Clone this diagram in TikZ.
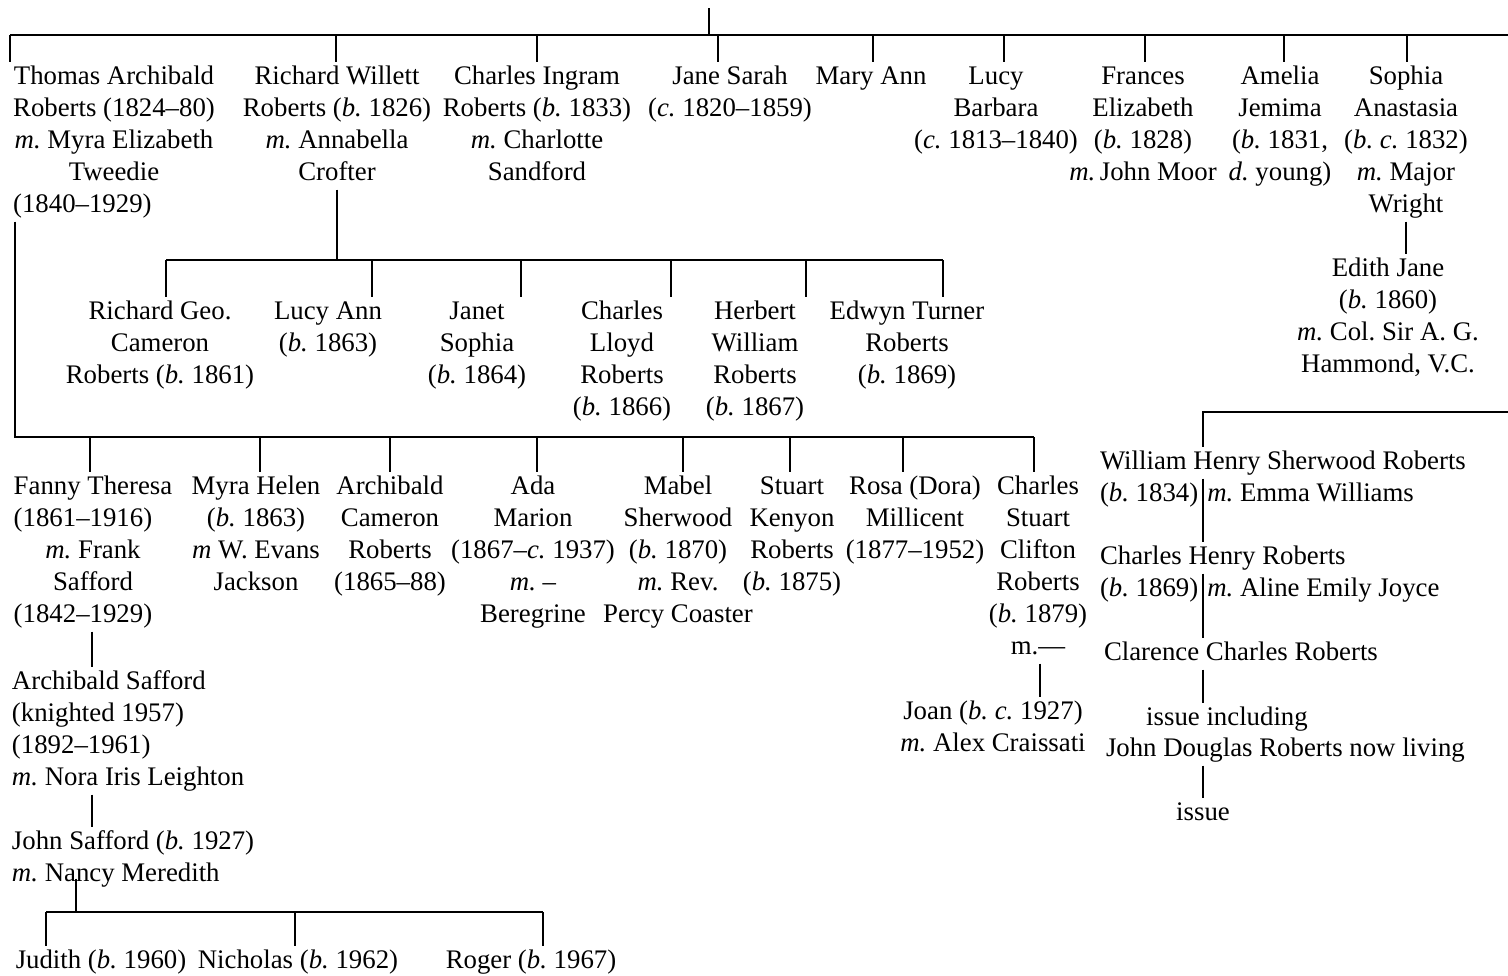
\documentclass[tikz,border=0pt]{standalone}
\usepackage{fontspec}
\setmainfont{Liberation Serif}
\usetikzlibrary{calc}
\frenchspacing
\newcommand\pc[1]{\begin{tabular}{@{}c@{}}#1\end{tabular}}
\newcommand\pl[1]{\begin{tabular}{@{}l@{}}#1\end{tabular}}
\newcommand\lft[1]{\multicolumn{1}{@{}l@{}}{#1}}
\begin{document}
\begin{tikzpicture}[x=1pt,y=-1pt,
  person/.style={inner sep=0pt,outer sep=0pt,anchor=north,font=\fontsize{26.8}{32}\selectfont},
  personl/.style={person,anchor=north west},
  line/.style={line width=1.1pt}]
\useasboundingbox (0,0) rectangle (1508,975);

% ---------- generation 1 ----------
\node[person] (thomas)   at (114,61.6) {\pc{Thomas Archibald\\Roberts (1824--80)\\\textit{m.} Myra Elizabeth\\Tweedie\\\lft{(1840--1929)}}};
\node[person] (richard)  at (337,61.6) {\pc{Richard Willett\\Roberts (\textit{b.} 1826)\\\textit{m.} Annabella\\Crofter}};
\node[person] (charlesI) at (537,61.6) {\pc{Charles Ingram\\Roberts (\textit{b.} 1833)\\\textit{m.} Charlotte\\Sandford}};
\node[person] (jane)     at (730,61.6) {\pc{Jane Sarah\\(\textit{c.} 1820--1859)}};
\node[person] (mary)     at (871,61.6) {\pc{Mary Ann}};
\node[person] (lucy)     at (996,61.6) {\pc{Lucy\\Barbara\\(\textit{c.} 1813--1840)}};
\node[person] (frances)  at (1143,61.6) {\pc{Frances\\Elizabeth\\(\textit{b.} 1828)\\\textit{m.}\,John Moor}};
\node[person] (amelia)   at (1280,61.6) {\pc{Amelia\\Jemima\\(\textit{b.} 1831,\\\textit{d.} young)}};
\node[person] (sophia)   at (1406,61.6) {\pc{Sophia\\Anastasia\\(\textit{b. c.} 1832)\\\textit{m.} Major\\Wright}};
\node[person] (edith)    at (1388,253.6) {\pc{Edith Jane\\(\textit{b.} 1860)\\\textit{m.} Col. Sir A. G.\\Hammond, V.C.}};

% ---------- children of Richard Willett ----------
\node[person] (rgc)      at (160,296.6) {\pc{Richard Geo.\\Cameron\\Roberts (\textit{b.} 1861)}};
\node[person] (lucyann)  at (328,296.6) {\pc{Lucy Ann\\(\textit{b.} 1863)}};
\node[person] (janet)    at (477,296.6) {\pc{Janet\\Sophia\\(\textit{b.} 1864)}};
\node[person] (charlesL) at (622,296.6) {\pc{Charles\\Lloyd\\Roberts\\(\textit{b.} 1866)}};
\node[person] (herbert)  at (755,296.6) {\pc{Herbert\\William\\Roberts\\(\textit{b.} 1867)}};
\node[person] (edwyn)    at (907,296.6) {\pc{Edwyn Turner\\Roberts\\(\textit{b.} 1869)}};

% ---------- children of Thomas Archibald ----------
\node[person] (fanny)    at (93,471.6) {\pc{Fanny Theresa\\\lft{(1861--1916)}\\\textit{m.} Frank\\Safford\\\lft{(1842--1929)}}};
\node[person] (myra)     at (256,471.6) {\pc{Myra Helen\\(\textit{b.} 1863)\\\textit{m} W. Evans\\Jackson}};
\node[person] (archC)    at (390,471.6) {\pc{Archibald\\Cameron\\Roberts\\(1865--88)}};
\node[person] (ada)      at (533,471.6) {\pc{Ada\\Marion\\(1867--\textit{c.} 1937)\\\textit{m.} --\\Beregrine}};
\node[person] (mabel)    at (678,471.6) {\pc{Mabel\\Sherwood\\(\textit{b.} 1870)\\\textit{m.} Rev.\\Percy Coaster}};
\node[person] (stuart)   at (792,471.6) {\pc{Stuart\\Kenyon\\Roberts\\(\textit{b.} 1875)}};
\node[person] (rosa)     at (915,471.6) {\pc{Rosa (Dora)\\Millicent\\(1877--1952)}};
\node[person] (charlesS) at (1038,471.6) {\pc{Charles\\Stuart\\Clifton\\Roberts\\(\textit{b.} 1879)\\m.---}};
\node[person] (joan)     at (993,696.6) {\pc{Joan (\textit{b. c.} 1927)\\\textit{m.} Alex Craissati}};

% ---------- Safford line ----------
\node[personl] (archS)   at (12,666.6) {\pl{Archibald Safford\\(knighted 1957)\\(1892--1961)\\\textit{m.} Nora Iris Leighton}};
\node[personl] (johnS)   at (12,826.6) {\pl{John Safford (\textit{b.} 1927)\\\textit{m.} Nancy Meredith}};
\node[person] (judith)   at (101,945.6) {\pc{Judith (\textit{b.} 1960)}};
\node[person] (nicholas) at (298,945.6) {\pc{Nicholas (\textit{b.} 1962)}};
\node[person] (roger)    at (531,945.6) {\pc{Roger (\textit{b.} 1967)}};

% ---------- William Henry Sherwood line ----------
\node[personl] (william)  at (1100,446.6) {\pl{William Henry Sherwood Roberts\\(\textit{b.} 1834)\hspace{9pt}\textit{m.} Emma Williams}};
\node[personl] (charlesH) at (1100,541.6) {\pl{Charles Henry Roberts\\(\textit{b.} 1869)\hspace{9pt}\textit{m.} Aline Emily Joyce}};
\node[personl] (clarence) at (1104,637.6) {\pl{Clarence Charles Roberts}};
\node[person]  (issueinc) at (1227,702.6) {\pc{issue including}};
\node[personl] (johnD)    at (1106,733.6) {\pl{John Douglas Roberts now living}};
\node[person]  (issue)    at (1203,797.6) {\pc{issue}};

% ---------- connectors ----------
\coordinate (root)  at (709,8);
\coordinate (busA)  at (10,35);
\coordinate (busAR) at (1508,35);
\draw[line] (root) -- (709,0 |- busA);
\draw[line] (busA) -- (busAR);
\foreach \x/\n in {10/thomas,336/richard,537/charlesI,718/jane,873/mary,1004/lucy,1145/frances,1284/amelia,1407/sophia}
  \draw[line] (\x,0 |- busA) -- (\x,0 |- \n.north);
\draw[line] (1406,0 |- sophia.south) -- (1406,0 |- edith.north);

\coordinate (busB)  at (166,260);
\coordinate (busBR) at (943,260);
\draw[line] (337,0 |- richard.south) -- (337,0 |- busB);
\draw[line] (busB) -- (busBR);
\foreach \x/\n in {166/rgc,372/lucyann,521/janet,671/charlesL,806/herbert,943/edwyn}
  \draw[line] (\x,0 |- busB) -- (\x,0 |- \n.north);

\coordinate (busC)  at (15,437);
\coordinate (busCR) at (1034,437);
\draw[line] (15,0 |- thomas.south) -- (busC) -- (busCR);
\foreach \x/\n in {90/fanny,260/myra,390/archC,537/ada,683/mabel,790/stuart,903/rosa,1034/charlesS}
  \draw[line] (\x,0 |- busC) -- (\x,0 |- \n.north);
\draw[line] (1040,0 |- charlesS.south) -- (1040,0 |- joan.north);

\draw[line] (92,0 |- fanny.south) -- (92,0 |- archS.north);
\draw[line] (92,0 |- archS.south) -- (92,0 |- johnS.north);
\coordinate (busD)  at (46,912);
\coordinate (busDR) at (543,912);
\draw[line] ($(76,0 |- johnS.south)+(0,-12)$) -- (76,0 |- busD);
\draw[line] (busD) -- (busDR);
\foreach \x/\n in {46/judith,295/nicholas,543/roger}
  \draw[line] (\x,0 |- busD) -- (\x,0 |- \n.north);

\coordinate (busE)  at (1203,412);
\coordinate (busER) at (1508,412);
\draw[line] (busER) -- (busE) -- (1203,0 |- william.north);
\draw[line] (1203,0 |- william.center) -- (1203,0 |- charlesH.north);
\draw[line] (1203,0 |- charlesH.center) -- (1203,0 |- clarence.north);
\draw[line] (1203,0 |- clarence.south) -- (1203,0 |- issueinc.north);
\draw[line] (1203,0 |- johnD.south) -- (1203,0 |- issue.north);
\end{tikzpicture}
\end{document}
